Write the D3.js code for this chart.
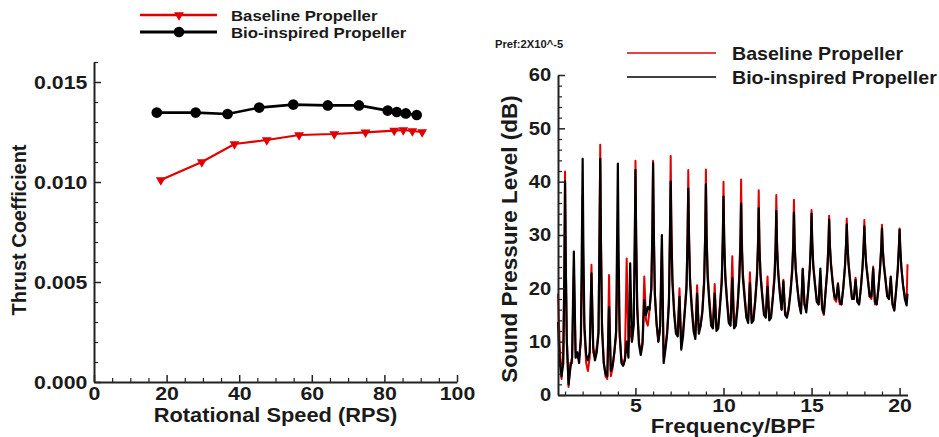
<!DOCTYPE html>
<html><head><meta charset="utf-8">
<script src="https://cdn.jsdelivr.net/npm/d3@7"></script>
<style>
body{margin:0;background:#fff}
svg{display:block}
text{font-family:"Liberation Sans",Arial,Helvetica,sans-serif;font-weight:bold;fill:#1a1a1a}
</style>
</head><body>
<svg id="chart" width="939" height="437"></svg>
<script>
// ---------------- Left panel: thrust coefficient ----------------
const seriesNames = ["Baseline Propeller", "Bio-inspired Propeller"];
const rpsBaseline = [18.4, 29.7, 38.7, 47.6, 56.5, 66.2, 74.8, 82.7, 85.2, 87.7, 90.4];
const ctBaseline  = [0.0101, 0.0110, 0.0119, 0.0121, 0.01235, 0.0124, 0.01248, 0.01257, 0.0126, 0.01255, 0.0125];
const rpsBio      = [17.3, 28.0, 36.8, 45.5, 54.9, 64.4, 73.0, 80.9, 83.4, 85.9, 88.9];
const ctBio       = [0.01347, 0.01347, 0.0134, 0.01372, 0.01387, 0.01383, 0.01383, 0.01357, 0.0135, 0.01343, 0.01335];
const rpsTicks    = [0, 20, 40, 60, 80, 100];
const rpsMinor    = [5, 10, 15, 25, 30, 35, 45, 50, 55, 65, 70, 75, 85, 90, 95];
const ctTicks     = [0, 0.005, 0.010, 0.015];
const ctMinor     = [0.001, 0.002, 0.003, 0.004, 0.006, 0.007, 0.008, 0.009, 0.011, 0.012, 0.013, 0.014, 0.016];

// ---------------- Right panel: sound pressure spectrum ----------------
const splTicks   = [0, 10, 20, 30, 40, 50, 60];
const splMinor   = [2, 4, 6, 8, 12, 14, 16, 18, 22, 24, 26, 28, 32, 34, 36, 38, 42, 44, 46, 48, 52, 54, 56, 58];
const bpfTicks   = [5, 10, 15, 20];
const bpfMinor   = [1, 2, 3, 4, 6, 7, 8, 9, 11, 12, 13, 14, 16, 17, 18, 19];
const prefLabel  = "Pref:2X10^-5";

const spectrumFreq = [
  0.6, 0.7, 0.8, 0.9, 0.96,
  1, 1.04, 1.1, 1.2, 1.3, 1.4, 1.5, 1.6, 1.7, 1.8, 1.9, 1.96,
  2, 2.04, 2.1, 2.2, 2.3, 2.4, 2.5, 2.6, 2.7, 2.8, 2.9, 2.96,
  3, 3.04, 3.1, 3.2, 3.3, 3.4, 3.5, 3.6, 3.7, 3.8, 3.9, 3.96,
  4, 4.04, 4.1, 4.2, 4.3, 4.4, 4.5, 4.6, 4.7, 4.8, 4.9, 4.96,
  5, 5.04, 5.1, 5.2, 5.3, 5.4, 5.5, 5.6, 5.7, 5.8, 5.9, 5.96,
  6, 6.04, 6.1, 6.2, 6.3, 6.4, 6.5, 6.6, 6.7, 6.8, 6.9, 6.96,
  7, 7.04, 7.1, 7.2, 7.3, 7.4, 7.5, 7.6, 7.7, 7.8, 7.9, 7.96,
  8, 8.04, 8.1, 8.2, 8.3, 8.4, 8.5, 8.6, 8.7, 8.8, 8.9, 8.96,
  9, 9.04, 9.1, 9.2, 9.3, 9.4, 9.5, 9.6, 9.7, 9.8, 9.9, 9.96,
  10, 10.04, 10.1, 10.2, 10.3, 10.4, 10.5, 10.6, 10.7, 10.8, 10.9, 10.96,
  11, 11.04, 11.1, 11.2, 11.3, 11.4, 11.5, 11.6, 11.7, 11.8, 11.9, 11.96,
  12, 12.04, 12.1, 12.2, 12.3, 12.4, 12.5, 12.6, 12.7, 12.8, 12.9, 12.96,
  13, 13.04, 13.1, 13.2, 13.3, 13.4, 13.5, 13.6, 13.7, 13.8, 13.9, 13.96,
  14, 14.04, 14.1, 14.2, 14.3, 14.4, 14.5, 14.6, 14.7, 14.8, 14.9, 14.96,
  15, 15.04, 15.1, 15.2, 15.3, 15.4, 15.5, 15.6, 15.7, 15.8, 15.9, 15.96,
  16, 16.04, 16.1, 16.2, 16.3, 16.4, 16.5, 16.6, 16.7, 16.8, 16.9, 16.96,
  17, 17.04, 17.1, 17.2, 17.3, 17.4, 17.5, 17.6, 17.7, 17.8, 17.9, 17.96,
  18, 18.04, 18.1, 18.2, 18.3, 18.4, 18.5, 18.6, 18.7, 18.8, 18.9, 18.96,
  19, 19.04, 19.1, 19.2, 19.3, 19.4, 19.5, 19.6, 19.7, 19.8, 19.9, 19.96,
  20, 20.04, 20.1, 20.2, 20.3, 20.4, 20.45
];
const splBaseline = [
  19, 9, 3, 8, 24,
  41.9, 26, 11, 1.5, 6, 6, 24, 8, 7, 7, 10, 22,
  37.5, 22, 12, 6, 4.5, 7, 24.4, 8, 7, 9, 12, 32,
  46.9, 30, 14, 6, 3.5, 3, 22.5, 3.5, 5, 8, 11, 20,
  33.1, 20, 11, 7, 5.5, 7, 25.6, 9, 13, 10, 14, 30,
  43.9, 30, 17, 10, 8, 10, 22.2, 14, 13, 16, 20, 31,
  43.9, 31, 19, 13, 10, 12, 28, 7, 9, 12, 18, 32,
  44.8, 32, 22, 16, 12, 12, 20, 9, 12, 16, 21, 31,
  42.2, 31, 22, 17, 13, 11, 20.6, 12, 13, 16, 22, 31,
  42.3, 31, 23, 18, 14, 13, 20.8, 12.5, 13, 17, 22, 30,
  40, 30, 23, 18, 14, 14, 26, 13, 14, 17, 23, 30,
  40.4, 30, 23, 19, 15, 14, 23, 14, 14.5, 18, 23, 29.5,
  38.4, 29, 23, 19, 15.5, 15, 22.2, 14.5, 15, 18.5, 23, 29,
  37.5, 29, 24, 19.5, 16, 21.6, 15.5, 15, 16.5, 19.5, 24, 29,
  36.6, 29, 24, 20, 17, 15.5, 23.7, 17, 16, 19.5, 24, 29,
  34.7, 29, 24.5, 21, 17.5, 17, 22.5, 16, 15, 19.5, 24, 28.5,
  33.6, 28.5, 25, 21.5, 18, 17.5, 21, 17, 17, 20, 24.5, 28.5,
  33.1, 28.5, 25, 21.5, 18, 18, 22, 17.5, 17, 20, 24.5, 28.5,
  32.8, 28.5, 25, 22, 18.5, 18, 24.1, 17, 17, 20, 24.5, 28,
  31.9, 28, 25, 22, 18.5, 18, 21.9, 17, 16, 19.5, 24, 28,
  31.2, 27.5, 24, 20.5, 18.5, 17.5, 24.5
];
const splBio = [
  13.7, 6, 3.5, 6, 22,
  40.1, 25, 10, 2, 5, 7, 26.9, 7, 8, 6, 11, 30,
  44.3, 28, 13, 7.5, 6.5, 8, 22.8, 9, 6.5, 8, 11.5, 30,
  44.3, 28, 12, 6, 4, 3.5, 16.5, 4.5, 5.5, 8, 12, 30,
  43.4, 27, 12, 6, 5.5, 6.5, 10, 7, 24.7, 10, 13, 28,
  42.2, 29, 16, 9.5, 7.5, 9.5, 17.8, 15, 16.5, 16, 20, 31,
  43.5, 31, 19, 13.5, 10, 13, 30, 6, 8.5, 11.5, 17, 30,
  40, 30, 21, 15, 11.5, 11, 18.4, 8.5, 11, 15.5, 20, 29.5,
  38.7, 29, 21, 16, 12, 10.5, 19, 11.5, 13, 15.5, 21, 29.5,
  39.5, 29.5, 22, 17, 13, 12.5, 19, 12, 12.5, 16.5, 21, 29,
  37.2, 28.5, 22, 17.5, 13.5, 13, 21.9, 12.5, 13, 16.5, 22, 28,
  35.9, 27.5, 22, 18, 14.5, 13.5, 21, 13.5, 14, 17.5, 22, 27.5,
  35, 27.5, 22.5, 18.5, 15, 14.5, 20.3, 14, 14.5, 18, 22, 27.5,
  34.5, 27.5, 23, 19, 16, 21.3, 15, 14.5, 16, 19, 23, 27.5,
  34.2, 28, 23.5, 20, 17, 15.3, 23.6, 17, 15.5, 19, 23.5, 28,
  34, 28.5, 24, 20.5, 17.5, 17, 23.7, 16.5, 15.3, 19.5, 23.5, 28,
  32.9, 28, 24.5, 21, 18.5, 18, 20.8, 17.5, 17, 20, 24, 28,
  32, 28, 24.5, 21, 18, 18, 21.6, 17.5, 17, 20, 24, 28,
  31.6, 28, 24.5, 21.5, 18.5, 18.5, 23.75, 17.5, 17, 20, 24, 27.5,
  31.2, 27.5, 24.5, 21.5, 18.5, 18, 22.2, 17, 15.8, 19.5, 23.5, 27.5,
  31, 27.5, 24, 20.5, 18, 16.8, 19
];

const RED = "#e00000", BLACK = "#000000", AXIS = "#222";
const SX = 1.12;  // horizontal stretch of lettering in the original

const svg = d3.select("#chart");

function label(g, x, y, str, size, anchor, opts = {}) {
  const rot = opts.rotate ? " rotate(-90)" : "";
  const sc = opts.rotate ? `scale(1,${opts.stretch || SX})` : `scale(${opts.stretch || SX},1)`;
  return g.append("text")
    .attr("transform", `translate(${x},${y})${rot} ${sc}`)
    .attr("text-anchor", anchor)
    .style("font-size", size + "px")
    .text(str);
}

function majorAxis(parent, axis, fontSize) {
  const sel = parent.append("g").call(axis);
  sel.select(".domain").attr("stroke", AXIS).attr("stroke-width", 2);
  sel.selectAll(".tick line").attr("stroke", AXIS).attr("stroke-width", 1.5);
  sel.selectAll(".tick text").style("font-size", fontSize + "px")
    .attr("fill", "#1a1a1a")
    .attr("transform", `scale(${SX},1)`);
  return sel;
}
function minorAxis(parent, axis) {
  const s = parent.append("g").call(axis);
  s.select(".domain").remove();
  s.selectAll(".tick line").attr("stroke", AXIS).attr("stroke-width", 1.2);
  return s;
}

// ================= LEFT PANEL =================
const xL = d3.scaleLinear().domain([0, 100]).range([94, 457]);
const yL = d3.scaleLinear().domain([0, 0.016]).range([382, 62]);
const gL = svg.append("g");

const lx = gL.append("g").attr("transform", `translate(0,${yL(0)})`);
minorAxis(lx, d3.axisBottom(xL).tickValues(rpsMinor).tickSize(-4).tickFormat(""));
majorAxis(lx, d3.axisBottom(xL).tickValues(rpsTicks).tickSizeInner(-7).tickSizeOuter(0).tickPadding(5).tickFormat(d3.format("d")), 19);

const ly = gL.append("g").attr("transform", `translate(${xL(0)},0)`);
minorAxis(ly, d3.axisLeft(yL).tickValues(ctMinor).tickSize(-4).tickFormat(""));
majorAxis(ly, d3.axisLeft(yL).tickValues(ctTicks).tickSizeInner(-7).tickSizeOuter(0).tickPadding(6).tickFormat(d3.format(".3f")), 19);

label(gL, (xL(0) + xL(100)) / 2, 422, "Rotational Speed (RPS)", 19.5, "middle");
label(gL, 26, 230, "Thrust Coefficient", 20, "middle", {rotate: true, stretch: 1.05});

const lineL = d3.line();
gL.append("path")
  .attr("d", lineL(rpsBaseline.map((r, i) => [xL(r), yL(ctBaseline[i])])))
  .attr("fill", "none").attr("stroke", RED).attr("stroke-width", 2.2);
gL.append("path")
  .attr("d", lineL(rpsBio.map((r, i) => [xL(r), yL(ctBio[i])])))
  .attr("fill", "none").attr("stroke", BLACK).attr("stroke-width", 2.6);

const triDown = d3.symbol(d3.symbolTriangle, 42);
gL.selectAll(".tri").data(rpsBaseline).join("path")
  .attr("class", "tri")
  .attr("d", triDown)
  .attr("transform", (r, i) => `translate(${xL(r)},${yL(ctBaseline[i])}) rotate(180)`)
  .attr("fill", RED);
gL.selectAll(".dot").data(rpsBio).join("circle")
  .attr("class", "dot")
  .attr("cx", r => xL(r)).attr("cy", (r, i) => yL(ctBio[i]))
  .attr("r", 5.3).attr("fill", BLACK);

// left legend
const legL = gL.append("g");
legL.append("line").attr("x1", 140).attr("x2", 217).attr("y1", 15).attr("y2", 15).attr("stroke", RED).attr("stroke-width", 2.5);
legL.append("path").attr("d", triDown).attr("transform", "translate(179,15) rotate(180)").attr("fill", RED);
legL.append("line").attr("x1", 140).attr("x2", 217).attr("y1", 32).attr("y2", 32).attr("stroke", BLACK).attr("stroke-width", 2.8);
legL.append("circle").attr("cx", 179).attr("cy", 32).attr("r", 5.3).attr("fill", BLACK);
label(legL, 231, 20.5, seriesNames[0], 15, "start");
label(legL, 231, 37.5, seriesNames[1], 15, "start");

// ================= RIGHT PANEL =================
const xR = d3.scaleLinear().domain([0.6, 20.45]).range([558, 907.5]);
const yR = d3.scaleLinear().domain([0, 60]).range([395, 75]);
const gR = svg.append("g");

const specLine = d3.line().x((d, i) => xR(spectrumFreq[i])).y(d => yR(d));
gR.append("path").attr("d", specLine(splBaseline))
  .attr("fill", "none").attr("stroke", RED).attr("stroke-width", 2).attr("stroke-linejoin", "round");
gR.append("path").attr("d", specLine(splBio))
  .attr("fill", "none").attr("stroke", BLACK).attr("stroke-width", 2.2).attr("stroke-linejoin", "round");

const rx = gR.append("g").attr("transform", `translate(0,${yR(0)})`);
minorAxis(rx, d3.axisBottom(xR).tickValues(bpfMinor).tickSize(-3.5).tickFormat(""));
majorAxis(rx, d3.axisBottom(xR).tickValues(bpfTicks).tickSizeInner(-7).tickSizeOuter(0).tickPadding(4).tickFormat(d3.format("d")), 19);

const ry = gR.append("g").attr("transform", `translate(${xR.range()[0]},0)`);
minorAxis(ry, d3.axisLeft(yR).tickValues(splMinor).tickSize(-4).tickFormat(""));
majorAxis(ry, d3.axisLeft(yR).tickValues(splTicks).tickSizeInner(-7).tickSizeOuter(0).tickPadding(6).tickFormat(d3.format("d")), 18);

label(gR, 733, 433, "Frequency/BPF", 19.5, "middle", {stretch: 1.15});
label(gR, 517, 239, "Sound Pressure Level (dB)", 22.5, "middle", {rotate: true, stretch: 1.0});
label(gR, 495, 48, prefLabel, 10, "start");

// right legend
const legR = gR.append("g");
legR.append("line").attr("x1", 627).attr("x2", 716).attr("y1", 53).attr("y2", 53).attr("stroke", RED).attr("stroke-width", 1.6);
legR.append("line").attr("x1", 627).attr("x2", 716).attr("y1", 77).attr("y2", 77).attr("stroke", BLACK).attr("stroke-width", 1.6);
label(legR, 732, 59.5, seriesNames[0], 18, "start", {stretch: 1.09});
label(legR, 732, 83.5, seriesNames[1], 18, "start", {stretch: 1.09});
</script>
</body></html>
